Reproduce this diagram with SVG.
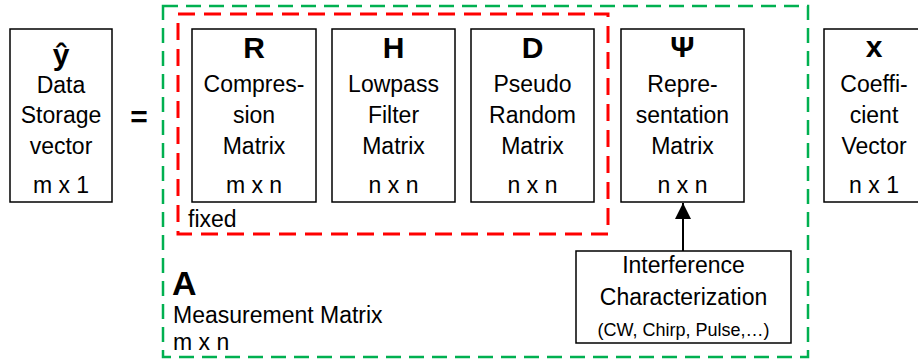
<svg xmlns="http://www.w3.org/2000/svg" width="918" height="360" viewBox="0 0 918 360">
<style>
.box{fill:#fff;stroke:#000;stroke-width:1.5}
.t{font-family:"Liberation Sans",Arial,sans-serif;font-size:23px;fill:#000;text-anchor:middle}
.b{font-family:"Liberation Sans",Arial,sans-serif;font-size:30px;font-weight:bold;fill:#000;text-anchor:middle}
.l{font-family:"Liberation Sans",Arial,sans-serif;font-size:23px;fill:#000}
.green{fill:none;stroke:#00b050;stroke-width:2.5;stroke-dasharray:15 8}
.red{fill:none;stroke:#ff0000;stroke-width:3;stroke-dasharray:17 9}
</style>
<defs>
<marker id="ah" markerWidth="16" markerHeight="23" refX="16" refY="8" orient="auto" markerUnits="userSpaceOnUse">
<path d="M0,0 L16,8 L0,16 Z" fill="#000"/>
</marker>
</defs>
<g id="measurement-matrix">
<rect class="green" x="163" y="6" width="645" height="351"/>
<text class="l" x="172" y="295" style="font-size:34px;font-weight:bold">A</text>
<text class="l" x="173" y="323">Measurement Matrix</text>
<text class="l" x="173" y="350">m x n</text>
</g>
<g id="fixed-group">
<rect class="red" x="178" y="14" width="430" height="220"/>
<text class="l" x="188" y="227">fixed</text>
</g>
<g id="y-box">
<rect class="box" x="10" y="29" width="102" height="173"/>
<text class="b" x="61" y="65">ŷ</text>
<text class="t" x="61" y="93">Data</text>
<text class="t" x="61" y="123">Storage</text>
<text class="t" x="61" y="154">vector</text>
<text class="t" x="61" y="193">m x 1</text>
</g>
<g id="equals">
<text class="b" x="139" y="127">=</text>
</g>
<g id="R-box">
<rect class="box" x="192" y="29" width="124" height="173"/>
<text class="b" x="254" y="58">R</text>
<text class="t" x="254" y="92">Compres-</text>
<text class="t" x="254" y="123">sion</text>
<text class="t" x="254" y="154">Matrix</text>
<text class="t" x="254" y="193">m x n</text>
</g>
<g id="H-box">
<rect class="box" x="332" y="29" width="123" height="173"/>
<text class="b" x="393.5" y="58">H</text>
<text class="t" x="393.5" y="92">Lowpass</text>
<text class="t" x="393.5" y="123">Filter</text>
<text class="t" x="393.5" y="154">Matrix</text>
<text class="t" x="393.5" y="193">n x n</text>
</g>
<g id="D-box">
<rect class="box" x="471" y="29" width="123" height="173"/>
<text class="b" x="532.5" y="58">D</text>
<text class="t" x="532.5" y="92">Pseudo</text>
<text class="t" x="532.5" y="123">Random</text>
<text class="t" x="532.5" y="154">Matrix</text>
<text class="t" x="532.5" y="193">n x n</text>
</g>
<g id="Psi-box">
<rect class="box" x="621" y="29" width="123" height="173"/>
<text class="b" x="682.5" y="57">Ψ</text>
<text class="t" x="682.5" y="92">Repre-</text>
<text class="t" x="682.5" y="123">sentation</text>
<text class="t" x="682.5" y="154">Matrix</text>
<text class="t" x="682.5" y="193">n x n</text>
</g>
<g id="x-box">
<rect class="box" x="824" y="29" width="100" height="173"/>
<text class="b" x="874" y="57">x</text>
<text class="t" x="874" y="92">Coeffi-</text>
<text class="t" x="874" y="123">cient</text>
<text class="t" x="874" y="154">Vector</text>
<text class="t" x="874" y="193">n x 1</text>
</g>
<g id="interference-box">
<rect class="box" x="576" y="251" width="215" height="92"/>
<text class="t" x="683.5" y="273">Interference</text>
<text class="t" x="683.5" y="305">Characterization</text>
<text class="t" x="683.5" y="336" style="font-size:18px">(CW, Chirp, Pulse,…)</text>
</g>
<g id="connectors">
<line x1="683" y1="251" x2="683" y2="203" stroke="#000" stroke-width="2" marker-end="url(#ah)"/>
</g>
</svg>
